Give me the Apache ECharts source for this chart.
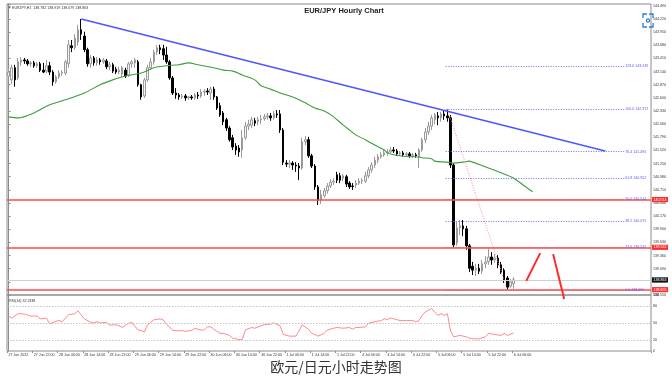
<!DOCTYPE html>
<html><head><meta charset="utf-8">
<script src="https://cdn.jsdelivr.net/npm/echarts@6/dist/echarts.min.js"></script>
<style>html,body{margin:0;padding:0;background:#fff}#c{width:672px;height:383px}</style>
</head><body><div id="c"></div>
<script>
// ---- data ----
const symbolName = 'EURJPY,H1';
const chartTitle = 'EUR/JPY Hourly Chart';
const caption = '欧元/日元小时走势图';
const timeLabels = ['27 Jun 2022','27 Jun 22:00','28 Jun 06:00','28 Jun 14:00','28 Jun 22:00','29 Jun 06:00','29 Jun 14:00','29 Jun 22:00','30 Jun 06:00','30 Jun 14:00','30 Jun 22:00','1 Jul 06:00','1 Jul 14:00','1 Jul 22:00','4 Jul 06:00','4 Jul 14:00','4 Jul 22:00','5 Jul 06:00','5 Jul 14:00','5 Jul 22:00','6 Jul 06:00'];
const labelEvery = 8;
const totalSlots = 204;
// [open, close, low, high]
const candles = [
[143.05,143.13,142.97,143.22],[142.97,143.22,142.89,143.28],[143.22,142.97,142.83,143.28],[143.01,143.34,142.97,143.42],
[143.34,143.38,143.26,143.44],[143.38,143.36,143.30,143.42],[143.36,143.30,143.26,143.40],[143.30,143.32,143.24,143.36],
[143.32,143.26,143.22,143.36],[143.26,143.30,143.22,143.34],[143.30,143.17,143.13,143.34],[143.17,143.13,143.11,143.32],
[143.15,143.26,143.11,143.38],[143.26,143.13,143.07,143.34],[143.13,142.93,142.85,143.17],[142.93,143.03,142.89,143.07],
[143.03,143.11,142.99,143.17],[143.11,143.13,143.05,143.17],[143.11,143.34,143.07,143.38],[143.30,143.69,143.22,143.79],
[143.67,143.63,143.54,143.79],[143.63,143.83,143.59,143.91],[143.75,144.00,143.67,144.10],[144.00,143.91,143.79,144.22],
[143.87,143.59,143.54,143.96],[143.59,143.30,143.24,143.63],[143.30,143.42,143.22,143.48],[143.42,143.32,143.26,143.46],
[143.32,143.38,143.26,143.44],[143.38,143.34,143.28,143.42],[143.34,143.38,143.30,143.42],[143.36,143.24,143.19,143.40],
[143.24,143.28,143.17,143.34],[143.28,143.15,143.11,143.32],[143.19,143.13,143.09,143.24],[143.13,143.17,143.09,143.24],
[143.09,143.22,143.03,143.26],[143.17,143.05,143.01,143.22],[143.07,143.30,143.03,143.34],[143.30,143.34,143.22,143.38],
[143.32,143.38,143.22,143.42],[143.34,142.87,142.83,143.38],[142.87,142.62,142.56,142.89],[142.64,142.97,142.60,143.01],
[142.97,143.22,142.93,143.28],[143.22,143.34,143.17,143.42],[143.34,143.54,143.28,143.59],[143.54,143.63,143.48,143.69],
[143.63,143.59,143.50,143.69],[143.61,143.48,143.38,143.69],[143.48,143.34,143.30,143.65],[143.34,143.01,142.97,143.38],
[143.01,142.70,142.66,143.05],[142.70,142.66,142.58,142.80],[142.66,142.62,142.56,142.70],[142.62,142.64,142.58,142.68],
[142.64,142.60,142.54,142.68],[142.60,142.62,142.56,142.64],[142.62,142.60,142.56,142.66],[142.60,142.66,142.56,142.70],
[142.66,142.64,142.58,142.72],[142.64,142.72,142.60,142.78],[142.72,142.74,142.64,142.78],[142.74,142.72,142.66,142.80],
[142.70,142.78,142.56,142.83],[142.78,142.62,142.56,142.83],[142.62,142.39,142.35,142.64],[142.44,142.25,142.21,142.50],
[142.29,142.11,142.04,142.33],[142.15,141.98,141.92,142.19],[141.98,141.74,141.70,142.02],[141.78,141.59,141.53,141.84],
[141.61,141.53,141.43,141.67],[141.57,141.49,141.39,141.63],[141.53,141.78,141.37,141.94],[141.78,142.02,141.74,142.11],
[142.02,142.06,141.94,142.15],[142.04,142.15,141.98,142.21],[142.13,142.08,142.02,142.19],[142.11,142.15,142.04,142.21],
[142.15,142.17,142.06,142.25],[142.17,142.21,142.13,142.27],[142.21,142.23,142.15,142.29],[142.23,142.19,142.13,142.29],
[142.19,142.27,142.15,142.33],[142.27,142.25,142.19,142.35],[142.27,141.94,141.88,142.35],[141.94,141.28,141.22,141.98],
[141.26,141.24,141.18,141.32],[141.24,141.26,141.16,141.32],[141.26,141.22,141.12,141.30],[141.22,141.20,141.08,141.28],
[141.20,141.16,140.91,141.26],[141.16,141.70,141.12,141.78],[141.70,141.74,141.63,141.82],[141.74,141.41,141.37,141.80],
[141.41,141.20,141.16,141.45],[141.20,140.77,140.71,141.24],[140.77,140.50,140.40,140.81],[140.50,140.61,140.42,140.71],
[140.59,140.69,140.55,140.75],[140.69,140.79,140.63,140.85],[140.79,140.87,140.75,140.93],[140.87,140.89,140.81,140.95],
[141.02,140.91,140.85,141.08],[141.00,140.91,140.85,141.06],[140.95,141.00,140.89,141.04],[140.98,140.83,140.77,141.02],
[140.85,140.77,140.73,140.89],[140.79,140.78,140.71,140.85],[140.81,140.85,140.75,140.91],[140.85,140.89,140.81,140.95],
[140.89,140.90,140.83,140.95],[140.89,141.00,140.85,141.08],[141.00,141.12,140.95,141.18],[141.12,141.22,141.06,141.28],
[141.22,141.32,141.16,141.39],[141.32,141.39,141.26,141.45],[141.39,141.43,141.35,141.49],[141.43,141.47,141.39,141.53],
[141.47,141.49,141.41,141.55],[141.49,141.53,141.45,141.59],[141.53,141.51,141.47,141.59],[141.51,141.45,141.41,141.55],
[141.45,141.47,141.41,141.51],[141.47,141.43,141.39,141.51],[141.43,141.45,141.39,141.49],[141.45,141.41,141.37,141.49],
[141.41,141.43,141.37,141.47],[141.43,141.41,141.37,141.47],[141.39,141.53,141.16,141.57],[141.53,141.74,141.49,141.78],
[141.74,141.90,141.67,141.98],[141.90,142.02,141.84,142.11],[142.02,142.19,141.94,142.25],[142.15,142.25,142.06,142.29],
[142.23,142.19,142.04,142.31],[142.19,142.27,142.11,142.31],[142.27,142.23,142.15,142.33],[142.23,142.19,142.11,142.372],
[142.19,141.22,141.16,142.25],[141.22,139.58,139.52,141.26],[139.62,139.93,139.56,140.05],[139.93,139.97,139.78,140.09],
[139.97,139.91,139.76,140.09],[139.91,139.56,139.48,139.97],[139.56,139.10,139.02,139.60],[139.14,139.06,138.96,139.23],
[139.06,139.10,138.94,139.19],[139.10,139.04,138.98,139.19],[139.04,139.19,138.98,139.27],[139.19,139.23,139.10,139.35],
[139.23,139.33,139.17,139.50],[139.33,139.27,139.17,139.43],[139.27,139.31,139.21,139.39],[139.31,139.17,139.10,139.37],
[139.17,139.02,138.98,139.23],[139.06,138.86,138.80,139.10],[138.90,138.71,138.655,138.94],[138.73,138.82,138.70,138.88],
[138.782,138.863,138.679,138.919]
];
// moving average read at sampled bars: [bar, price]
const maPoints = [[0,142.21],[3,142.19],[8,142.29],[13,142.46],[18,142.56],[24,142.70],[29,142.87],[33,142.97],[37,143.05],[42,143.11],[46,143.22],[50,143.26],[54,143.28],[57,143.32],[60,143.28],[65,143.22],[68,143.17],[71,143.15],[74,143.07],[78,142.97],[80,142.85],[83,142.78],[86,142.70],[90,142.62],[94,142.50],[97,142.39],[100,142.33],[103,142.21],[106,142.04],[108,141.94],[110,141.84],[113,141.74],[116,141.63],[119,141.53],[120,141.47],[122,141.43],[124,141.41],[127,141.39],[129,141.39],[131,141.37],[134,141.35],[135,141.30],[139,141.28],[141,141.26],[144,141.28],[146,141.30],[147,141.28],[152,141.16],[156,141.06],[160,140.95],[163,140.81],[166,140.67]];
// RSI(14) read at sampled bars: [bar, value]
const rsiPoints = [[0,62.4],[1,58.7],[3,66.7],[5,66.1],[7,62.4],[9,62.4],[10,57.4],[12,58.7],[13,48.1],[15,53.1],[16,54.3],[17,52.4],[19,64.8],[21,66.7],[22,71.7],[24,57.4],[26,51.3],[27,50.0],[28,52.4],[29,50.0],[31,51.3],[32,46.3],[34,46.9],[35,45.0],[36,42.0],[38,49.4],[39,51.3],[41,37.6],[42,36.5],[43,33.9],[44,46.3],[45,51.3],[46,55.6],[48,57.4],[49,55.6],[50,48.1],[52,37.0],[54,35.7],[55,36.5],[56,35.2],[58,37.0],[59,40.2],[61,37.6],[62,37.6],[63,43.1],[64,43.1],[65,38.9],[67,31.5],[68,31.5],[70,27.8],[71,22.8],[73,20.4],[74,20.4],[75,37.6],[77,42.0],[78,40.7],[80,45.0],[81,46.9],[83,48.1],[84,50.0],[86,45.0],[87,29.6],[89,26.5],[91,26.5],[92,35.7],[93,46.9],[95,38.9],[96,31.5],[97,29.6],[98,26.5],[100,31.5],[101,37.6],[103,40.7],[104,42.0],[106,40.7],[108,42.0],[109,38.9],[110,42.0],[111,42.0],[113,43.1],[114,49.4],[116,52.4],[118,54.3],[119,57.4],[120,56.1],[121,58.7],[123,56.1],[124,54.3],[126,54.3],[128,54.3],[129,52.4],[130,54.3],[131,63.5],[132,69.8],[134,75.9],[136,63.5],[137,66.7],[138,63.5],[139,66.7],[140,35.7],[141,25.3],[143,27.8],[145,25.3],[146,22.8],[148,21.6],[149,21.6],[151,25.3],[152,31.5],[154,29.6],[156,27.8],[157,31.5],[158,27.8],[160,32.2338]];
const rsiLast = 32.2338;
const rsiLevels = [80, 50, 20];
const rsiAxisLabels = [0, 20, 50, 80, 100];
const trendLine = [[23,144.22],[189,141.51]];
const fibLow = 138.655, fibHigh = 142.372;
const fibLowBar = 158, fibHighBar = 139, fibEndBar = 195;
const fibRatios = [0, 23.6, 38.2, 50, 61.8, 76.4, 100, 123.6];
const redFibRatios = [50, 23.6, 0];
const lastPrice = 138.863;
const arrows = [[[164,138.84],[168.4,139.41]], [[172.5,139.39],[176,138.47]]];
const priceMin = 138.55, priceMax = 144.529, priceStep = 0.27;

// ---- chart ----
const slots = Array.from({length: totalSlots}, (_, i) => String(i));
const fibPrice = r => fibLow + (fibHigh - fibLow) * r / 100;
const last = candles[candles.length - 1];
const font = '"Liberation Sans", Arial, sans-serif';
const small = 3.6;

const chart = echarts.init(document.getElementById('c'), null, {renderer: 'canvas'});
chart.setOption({
  animation: false,
  backgroundColor: '#ffffff',
  textStyle: {fontFamily: font},
  grid: [
    {left: 7, right: 21, top: 4, height: 291, show: true, borderColor: '#8c8c8c', borderWidth: 1},
    {left: 7, right: 21, top: 295, height: 56, show: true, borderColor: '#8c8c8c', borderWidth: 1}
  ],
  xAxis: [
    {type: 'category', gridIndex: 0, data: slots, boundaryGap: true, show: false},
    {type: 'value', gridIndex: 0, min: -0.5, max: totalSlots - 0.5, show: false},
    {type: 'category', gridIndex: 1, data: slots, boundaryGap: true,
      axisLine: {show: false},
      axisTick: {show: true, length: 2, interval: i => i % labelEvery === 0 && i <= 160, lineStyle: {color: '#8c8c8c'}},
      axisLabel: {interval: i => i % labelEvery === 0 && i <= 160, formatter: (v, i) => timeLabels[i / labelEvery] || '',
        fontSize: small, color: '#333', align: 'left', margin: 1.5, fontFamily: font},
      splitLine: {show: false}},
    {type: 'value', gridIndex: 1, min: -0.5, max: totalSlots - 0.5, show: false}
  ],
  yAxis: [
    {type: 'value', gridIndex: 0, position: 'right', min: priceMin, max: priceMax, interval: priceStep,
      axisLine: {show: true, lineStyle: {color: '#8c8c8c'}},
      axisTick: {show: true, length: 2, lineStyle: {color: '#8c8c8c'}},
      axisLabel: {fontSize: small, color: '#333', margin: 2, fontFamily: font,
        formatter: v => { const k = (v - priceMin) / priceStep; return Math.abs(k - Math.round(k)) > 1e-3 ? '' : v.toFixed(3); }},
      splitLine: {show: false}},
    {type: 'value', gridIndex: 1, position: 'right', min: 0, max: 100, interval: 10,
      axisLine: {show: true, lineStyle: {color: '#8c8c8c'}},
      axisTick: {show: false},
      axisLabel: {fontSize: small, color: '#333', margin: 2, fontFamily: font,
        formatter: v => rsiAxisLabels.includes(v) ? String(v) : ''},
      splitLine: {show: false}}
  ],
  series: [
    {type: 'candlestick', xAxisIndex: 0, yAxisIndex: 0, data: candles, barWidth: 2, z: 3,
      itemStyle: {color: '#f4f4f4', color0: '#000000', borderColor: '#9a9a9a', borderColor0: '#000000', borderWidth: 1}},
    {type: 'line', name: 'MA', xAxisIndex: 1, yAxisIndex: 0, data: maPoints, showSymbol: false, smooth: 0.3, z: 4,
      lineStyle: {color: '#3f9c3f', width: 1.1}},
    {type: 'line', name: 'trend', xAxisIndex: 1, yAxisIndex: 0, data: trendLine, showSymbol: false, z: 5,
      lineStyle: {color: '#4b58ff', width: 1.5}},
    {type: 'line', name: 'fibdiag', xAxisIndex: 1, yAxisIndex: 0, data: [[fibHighBar, fibHigh], [fibLowBar, fibLow]], showSymbol: false, z: 4,
      lineStyle: {color: '#ff8c8c', width: 1, type: [1, 1.5]}},
    ...arrows.map(a => ({type: 'line', xAxisIndex: 1, yAxisIndex: 0, data: a, showSymbol: false, clip: false, z: 6,
      lineStyle: {color: '#ff2a2a', width: 2}})),
    {type: 'line', name: 'levels', xAxisIndex: 1, yAxisIndex: 0, data: [], z: 5,
      markLine: {symbol: ['none', 'none'], silent: true, animation: false,
        data: [
          ...fibRatios.map(r => [{name: r.toFixed(1) + ' ' + fibPrice(r).toFixed(3), coord: [fibHighBar - 0.5, fibPrice(r)],
              lineStyle: {color: '#6b6bff', width: 1, type: [1, 1.5]},
              label: {show: true, position: 'end', distance: 1, formatter: '{b}', color: '#5656ff', fontSize: small, fontFamily: font}},
            {coord: [fibEndBar, fibPrice(r)]}]),
          {yAxis: lastPrice, lineStyle: {color: '#cfcfcf', width: 1, type: 'solid'},
            label: {show: true, position: 'end', distance: 1, formatter: lastPrice.toFixed(3), color: '#fff', backgroundColor: '#111',
              fontSize: small, padding: [0.6, 1.5], fontFamily: font}},
          ...redFibRatios.map(r => ({yAxis: fibPrice(r), lineStyle: {color: '#ff4b4b', width: 1.6, type: 'solid'},
            label: {show: true, position: 'end', distance: 1, formatter: fibPrice(r).toFixed(3), color: '#fff', backgroundColor: '#ff2e2e',
              fontSize: small, padding: [0.6, 1.5], fontFamily: font}}))
        ]}},
    {type: 'line', name: 'RSI', xAxisIndex: 3, yAxisIndex: 1, data: rsiPoints, showSymbol: false, z: 4,
      lineStyle: {color: '#ff8a8a', width: 1},
      markLine: {symbol: ['none', 'none'], silent: true, label: {show: false},
        lineStyle: {color: '#c4c4c4', width: 1, type: [1.5, 1.5]},
        data: rsiLevels.map(v => ({yAxis: v}))}}
  ],
  graphic: [
    {type: 'text', x: 344, y: 10.5, style: {text: chartTitle, align: 'center', verticalAlign: 'middle', font: 'bold 7.5px ' + font, fill: '#222'}},
    {type: 'text', x: 12, y: 7.5, style: {text: symbolName + '  ' + last[0].toFixed(3) + ' ' + last[3].toFixed(3) + ' ' + last[2].toFixed(3) + ' ' + last[1].toFixed(3),
      align: 'left', verticalAlign: 'middle', font: small + 'px ' + font, fill: '#333'}},
    {type: 'polygon', shape: {points: [[8.5, 6], [10.5, 7.5], [8.5, 9]]}, style: {fill: '#555'}},
    {type: 'text', x: 9, y: 300.5, style: {text: 'RSI(14) ' + rsiLast.toFixed(4), align: 'left', verticalAlign: 'middle', font: small + 'px ' + font, fill: '#333'}},
    {type: 'text', x: 336, y: 367, style: {text: caption, align: 'center', verticalAlign: 'middle', font: '14px "Noto Sans CJK SC", sans-serif', fill: '#333'}},
    {type: 'polyline', shape: {points: [[643, 18], [643, 14], [647, 14]]}, style: {stroke: '#2f7fd8', lineWidth: 1.3, fill: null}},
    {type: 'polyline', shape: {points: [[649, 14], [653, 14], [653, 18]]}, style: {stroke: '#2f7fd8', lineWidth: 1.3, fill: null}},
    {type: 'polyline', shape: {points: [[643, 23], [643, 27], [647, 27]]}, style: {stroke: '#2f7fd8', lineWidth: 1.3, fill: null}},
    {type: 'polyline', shape: {points: [[649, 27], [653, 27], [653, 23]]}, style: {stroke: '#2f7fd8', lineWidth: 1.3, fill: null}},
    {type: 'circle', shape: {cx: 648, cy: 20.5, r: 1.6}, style: {stroke: '#2f7fd8', lineWidth: 1.2, fill: null}}
  ]
});
</script>
</body></html>
